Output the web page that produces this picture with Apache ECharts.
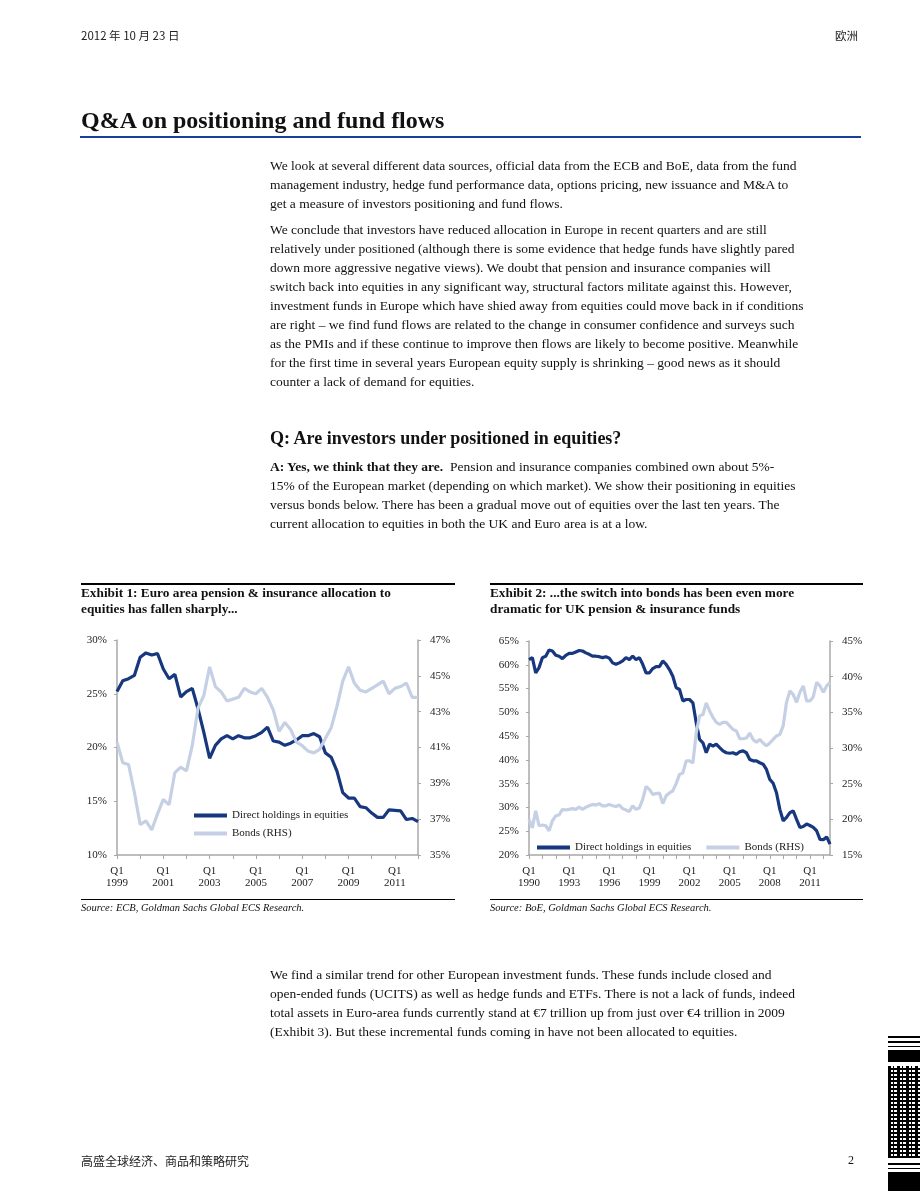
<!DOCTYPE html>
<html>
<head>
<meta charset="utf-8">
<script src="https://cdn.jsdelivr.net/npm/echarts@6/dist/echarts.min.js"></script>
<style>
  html, body { margin:0; padding:0; background:#fff; }
  body { width:920px; height:1191px; position:relative; overflow:hidden; font-family:"Liberation Serif","Times New Roman",serif; color:#111; }
  #chart { position:absolute; left:0; top:0; width:920px; height:1191px; z-index:1; }
  .t { position:absolute; z-index:2; white-space:nowrap; }
  .body { font-size:13.5px; line-height:19px; }
  .rule { position:absolute; z-index:2; background:#000; }
  .cjk { font-family:"Noto Sans CJK SC", sans-serif; }
</style>
</head>
<body>
<div id="chart"></div>

<div class="t cjk" style="left:81px; top:27px; font-size:11.5px; color:#222;">2012 年 10 月 23 日</div>
<div class="t cjk" style="left:835px; top:27px; font-size:11.5px; color:#222;">欧洲</div>

<div class="t" style="left:81px; top:107px; font-size:24px; font-weight:bold;">Q&amp;A on positioning and fund flows</div>
<div class="rule" style="left:80px; top:136px; width:781px; height:2px; background:#1b3d9c;"></div>

<div class="t body" style="left:270px; top:156px;">We look at several different data sources, official data from the ECB and BoE, data from the fund<br>management industry, hedge fund performance data, options pricing, new issuance and M&amp;A to<br>get a measure of investors positioning and fund flows.</div>

<div class="t body" style="left:270px; top:220px;">We conclude that investors have reduced allocation in Europe in recent quarters and are still<br>relatively under positioned (although there is some evidence that hedge funds have slightly pared<br>down more aggressive negative views). We doubt that pension and insurance companies will<br>switch back into equities in any significant way, structural factors militate against this. However,<br>investment funds in Europe which have shied away from equities could move back in if conditions<br>are right – we find fund flows are related to the change in consumer confidence and surveys such<br>as the PMIs and if these continue to improve then flows are likely to become positive. Meanwhile<br>for the first time in several years European equity supply is shrinking – good news as it should<br>counter a lack of demand for equities.</div>

<div class="t" style="left:270px; top:428px; font-size:18px; font-weight:bold;">Q: Are investors under positioned in equities?</div>

<div class="t body" style="left:270px; top:457px;"><b>A: Yes, we think that they are.</b>&nbsp; Pension and insurance companies combined own about 5%-<br>15% of the European market (depending on which market). We show their positioning in equities<br>versus bonds below. There has been a gradual move out of equities over the last ten years. The<br>current allocation to equities in both the UK and Euro area is at a low.</div>

<div class="rule" style="left:81px; top:583px; width:374px; height:1.5px;"></div>
<div class="t" style="left:81px; top:585px; font-size:13.3px; line-height:16px; font-weight:bold;">Exhibit 1: Euro area pension &amp; insurance allocation to<br>equities has fallen sharply...</div>
<div class="rule" style="left:81px; top:899px; width:374px; height:1px;"></div>
<div class="t" style="left:81px; top:902px; font-size:10.5px; font-style:italic;">Source: ECB, Goldman Sachs Global ECS Research.</div>

<div class="rule" style="left:490px; top:583px; width:373px; height:1.5px;"></div>
<div class="t" style="left:490px; top:585px; font-size:13.3px; line-height:16px; font-weight:bold;">Exhibit 2: ...the switch into bonds has been even more<br>dramatic for UK pension &amp; insurance funds</div>
<div class="rule" style="left:490px; top:899px; width:373px; height:1px;"></div>
<div class="t" style="left:490px; top:902px; font-size:10.5px; font-style:italic;">Source: BoE, Goldman Sachs Global ECS Research.</div>

<div class="t body" style="left:270px; top:965px;">We find a similar trend for other European investment funds. These funds include closed and<br>open-ended funds (UCITS) as well as hedge funds and ETFs. There is not a lack of funds, indeed<br>total assets in Euro-area funds currently stand at €7 trillion up from just over €4 trillion in 2009<br>(Exhibit 3). But these incremental funds coming in have not been allocated to equities.</div>

<div class="t cjk" style="left:81px; top:1152px; font-size:12px; color:#222;">高盛全球经济、商品和策略研究</div>
<div class="t" style="left:848px; top:1153px; font-size:12px;">2</div>

<!-- barcode-like block at bottom right -->
<div class="rule" style="left:888px; top:1036px; width:32px; height:2px;"></div>
<div class="rule" style="left:888px; top:1041px; width:32px; height:2px;"></div>
<div class="rule" style="left:888px; top:1046px; width:32px; height:1px;"></div>
<div class="rule" style="left:888px; top:1050px; width:32px; height:12px;"></div>
<div style="position:absolute; z-index:2; left:888px; top:1066px; width:32px; height:92px; background:repeating-linear-gradient(90deg,#000 0 3px,#fff 3px 5px,#000 5px 6px,#fff 6px 9px), repeating-linear-gradient(0deg,#000 0 2px,#fff 2px 4px); background-blend-mode:multiply;"></div>
<div class="rule" style="left:888px; top:1163px; width:32px; height:2px;"></div>
<div class="rule" style="left:888px; top:1168px; width:32px; height:1px;"></div>
<div class="rule" style="left:888px; top:1172px; width:32px; height:19px;"></div>

<script>
// ---------- Exhibit 1: Euro area (quarterly, Q1 1999 – Q1 2012) ----------
const euroStartYear = 1999;
const euroEquities = [25.2,26.2,26.4,26.7,28.4,28.8,28.6,28.75,27.3,26.4,26.8,24.7,25.2,25.5,23.6,21.4,
  19.0,20.2,20.8,21.1,20.8,21.1,20.9,20.9,21.1,21.4,21.9,20.6,20.5,20.2,20.4,20.7,
  21.1,21.1,21.3,21.0,19.5,19.1,17.8,15.8,15.3,15.3,14.5,14.4,13.9,13.5,13.5,14.2,
  14.15,14.1,13.3,13.4,13.1];
const euroBonds = [41.3,40.15,40.05,38.5,36.7,36.9,36.4,37.3,38.1,37.8,39.6,39.9,39.7,41.1,43.2,43.9,
  45.5,44.4,44.1,43.6,43.7,43.8,44.3,44.1,44.0,44.3,43.8,43.1,41.9,42.4,42.0,41.3,
  41.1,40.8,40.7,40.9,41.5,42.1,43.3,44.7,45.5,44.6,44.2,44.1,44.3,44.5,44.7,44.0,
  44.3,44.4,44.6,43.8,43.8];
const euroLeftTicks = {min:10, max:30, interval:5};
const euroRightTicks = {min:35, max:47, interval:2};

// ---------- Exhibit 2: UK (quarterly, Q1 1990 – Q3 2012) ----------
const ukStartYear = 1990;
const ukEquities = [61.1,61.5,58.3,59.4,61.5,61.8,63.1,62.9,62.0,61.8,61.3,62.0,62.4,62.4,62.7,63.0,
  62.9,62.5,62.2,61.8,61.8,61.7,61.5,61.7,61.4,60.4,60.1,60.4,60.8,61.5,61.1,61.8,
  61.1,61.5,60.1,58.3,58.3,59.2,59.6,59.6,60.8,60.1,59.0,57.6,55.2,54.8,52.4,52.7,
  52.7,52.0,47.8,44.3,43.6,41.5,43.3,42.9,43.3,42.6,41.9,41.5,41.4,41.5,41.2,41.7,
  41.9,41.5,40.1,39.8,39.8,39.4,39.1,38.0,35.9,35.1,33.1,29.6,27.2,27.9,28.9,29.3,
  27.5,25.8,26.0,26.5,26.2,25.8,25.1,23.3,23.2,23.8,22.3];
const ukBonds = [20.0,18.8,21.2,19.1,19.2,19.1,18.4,19.8,20.5,20.6,21.4,21.3,21.4,21.5,21.4,21.7,
  21.4,21.7,21.9,22.1,22.0,22.2,21.9,21.9,22.1,21.9,21.8,22.0,21.5,21.3,21.1,21.9,
  21.4,21.6,22.8,24.6,24.2,23.5,23.6,23.7,22.2,23.3,23.7,24.0,25.0,26.3,26.5,28.2,
  28.2,27.9,32.1,34.5,34.7,36.3,35.2,34.3,33.6,33.3,33.6,33.6,33.1,32.6,32.4,31.3,
  31.3,31.4,32.1,31.2,30.8,31.2,30.7,30.3,30.7,31.2,31.7,31.9,33.1,36.4,38.0,37.5,
  36.4,37.8,38.7,36.6,36.6,37.2,39.2,38.7,37.8,38.7,39.2];
const ukLeftTicks = {min:20, max:65, interval:5};
const ukRightTicks = {min:15, max:45, interval:5};

const seriesNames = ['Direct holdings in equities', 'Bonds (RHS)'];

function quarterLabels(startYear, n) {
  const out = [];
  for (let i = 0; i < n; i++) out.push('Q' + (i % 4 + 1) + ' ' + (startYear + Math.floor(i / 4)));
  return out;
}
const euroCats = quarterLabels(euroStartYear, euroEquities.length);
const ukCats = quarterLabels(ukStartYear, ukEquities.length);

const DARK = '#17377f';
const LIGHT = '#c6d0e4';
const AXIS = '#a8a8a8';
const FONT = 'Liberation Serif';
const labelStyle = {fontFamily: FONT, fontSize: 11, color: '#222'};

function xAxis(grid, cats, labelInt) {
  return {
    type: 'category', gridIndex: grid, data: cats, boundaryGap: false,
    axisLine: {lineStyle: {color: AXIS, width: 1.5}},
    axisTick: {interval: 3, length: 4, lineStyle: {color: AXIS}},
    axisLabel: Object.assign({interval: labelInt, margin: 10, lineHeight: 12,
      formatter: v => v.replace(' ', '\n')}, labelStyle),
    splitLine: {show: false}
  };
}
function yAxis(grid, t, pos, margin) {
  return {
    type: 'value', gridIndex: grid, position: pos, min: t.min, max: t.max, interval: t.interval,
    axisLine: {show: true, lineStyle: {color: AXIS, width: 1.5}},
    axisTick: {show: true, length: 3, lineStyle: {color: AXIS}},
    axisLabel: Object.assign({margin: margin, formatter: v => v + '%'}, labelStyle),
    splitLine: {show: false}
  };
}

const chart = echarts.init(document.getElementById('chart'), null, {renderer: 'canvas'});
chart.setOption({
  animation: false,
  backgroundColor: 'transparent',
  grid: [
    {left: 117, top: 640, width: 301, height: 215},
    {left: 529, top: 641, width: 301, height: 214}
  ],
  xAxis: [xAxis(0, euroCats, 7), xAxis(1, ukCats, 11)],
  yAxis: [
    yAxis(0, euroLeftTicks, 'left', 10), yAxis(0, euroRightTicks, 'right', 12),
    yAxis(1, ukLeftTicks, 'left', 10), yAxis(1, ukRightTicks, 'right', 12)
  ],
  legend: [
    {orient: 'vertical', left: 189, top: 805, itemGap: 7, itemWidth: 33, itemHeight: 4, icon: 'rect',
      textStyle: labelStyle, data: seriesNames},
    {orient: 'horizontal', left: 532, top: 837, itemGap: 15, itemWidth: 33, itemHeight: 4, icon: 'rect',
      textStyle: labelStyle, data: seriesNames}
  ],
  series: [
    {name: seriesNames[0], type: 'line', xAxisIndex: 0, yAxisIndex: 0, data: euroEquities,
      showSymbol: false, lineStyle: {color: DARK, width: 3.2}, itemStyle: {color: DARK}},
    {name: seriesNames[1], type: 'line', xAxisIndex: 0, yAxisIndex: 1, data: euroBonds,
      showSymbol: false, lineStyle: {color: LIGHT, width: 3.2}, itemStyle: {color: LIGHT}},
    {name: seriesNames[0], type: 'line', xAxisIndex: 1, yAxisIndex: 2, data: ukEquities,
      showSymbol: false, lineStyle: {color: DARK, width: 3.2}, itemStyle: {color: DARK}},
    {name: seriesNames[1], type: 'line', xAxisIndex: 1, yAxisIndex: 3, data: ukBonds,
      showSymbol: false, lineStyle: {color: LIGHT, width: 3.2}, itemStyle: {color: LIGHT}}
  ]
});
</script>
</body>
</html>
